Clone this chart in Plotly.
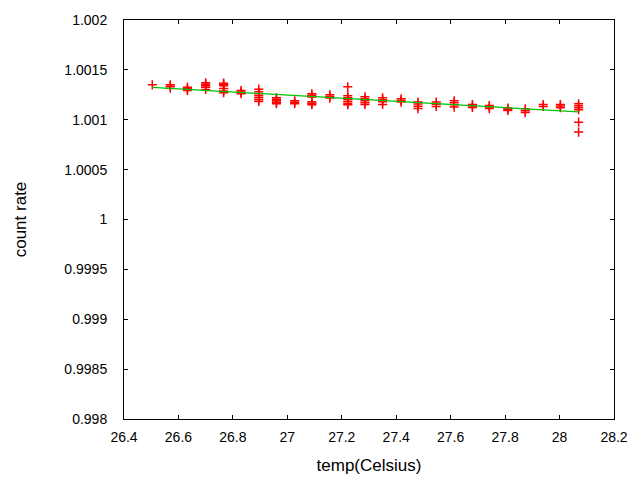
import plotly.graph_objects as go

# Temperatures (Celsius) of each measurement cluster
cluster_temps = [26.504, 26.57, 26.633, 26.70, 26.766, 26.83, 26.895, 26.96,
                 27.027, 27.09, 27.156, 27.222, 27.285, 27.35, 27.418, 27.48,
                 27.547, 27.613, 27.68, 27.742, 27.81, 27.874, 27.94, 28.003, 28.07]

# Count-rate readings at each temperature
cluster_values = [
    [1.00135],
    [1.00135, 1.001335, 1.001317],
    [1.001327, 1.00131, 1.001293],
    [1.00137, 1.001355, 1.00134, 1.001325, 1.001303],
    [1.001367, 1.001355, 1.00134, 1.001313, 1.001287, 1.00127],
    [1.001293, 1.001277, 1.00126],
    [1.001307, 1.00128, 1.00126, 1.00124, 1.00122, 1.0012, 1.001183],
    [1.00122, 1.001205, 1.00119, 1.001175, 1.00116],
    [1.00119, 1.001175, 1.00116],
    [1.00126, 1.001245, 1.001227, 1.00118, 1.001165, 1.00115],
    [1.00125, 1.001234, 1.001217],
    [1.00133, 1.00124, 1.00122, 1.0012, 1.00118, 1.00116, 1.00115],
    [1.00123, 1.00121, 1.00119, 1.00117, 1.001153],
    [1.00122, 1.0012, 1.00118, 1.001153],
    [1.00121, 1.001194, 1.001177],
    [1.001177, 1.001157, 1.001135, 1.001112],
    [1.001177, 1.001155, 1.001133],
    [1.00119, 1.00117, 1.00115, 1.001127],
    [1.001153, 1.001138, 1.001123],
    [1.001143, 1.001128, 1.001112],
    [1.001117, 1.001105, 1.001092],
    [1.00111, 1.00109, 1.001072],
    [1.001153, 1.001133],
    [1.001153, 1.001137, 1.00112],
    [1.00116, 1.00114, 1.00112, 1.0011, 1.000976, 1.000876],
]

# Linear fit line endpoints
fit_temps = [26.504, 28.07]
fit_values = [1.001325, 1.001079]

x_ticks = [26.4, 26.6, 26.8, 27, 27.2, 27.4, 27.6, 27.8, 28, 28.2]
x_tick_labels = ["26.4", "26.6", "26.8", "27", "27.2", "27.4", "27.6", "27.8", "28", "28.2"]
y_ticks = [0.998, 0.9985, 0.999, 0.9995, 1.0, 1.0005, 1.001, 1.0015, 1.002]
y_tick_labels = ["0.998", "0.9985", "0.999", "0.9995", "1", "1.0005", "1.001", "1.0015", "1.002"]

xs, ys = [], []
for t, vals in zip(cluster_temps, cluster_values):
    for v in vals:
        xs.append(t)
        ys.append(v)

fig = go.Figure()
fig.add_trace(go.Scatter(
    x=xs, y=ys, mode="markers",
    marker=dict(symbol="cross-thin", size=6.5, color="#ff0000",
                line=dict(color="#ff0000", width=1.5)),
    showlegend=False, hoverinfo="skip"))
fig.add_trace(go.Scatter(
    x=fit_temps, y=fit_values, mode="lines",
    line=dict(color="#00c000", width=1.2),
    showlegend=False, hoverinfo="skip"))

font = dict(family="Liberation Sans, Arial, sans-serif", size=14, color="#000000")
fig.update_layout(
    width=640, height=480,
    margin=dict(l=124, r=26, t=20, b=61, autoexpand=False),
    paper_bgcolor="white", plot_bgcolor="white",
    font=font, showlegend=False,
    xaxis=dict(range=[26.4, 28.2], tickvals=x_ticks, ticktext=x_tick_labels,
               showgrid=False, zeroline=False, showline=True, linecolor="black",
               linewidth=1, mirror="ticks", ticks="inside", ticklen=4,
               tickcolor="black", ticklabelstandoff=5, automargin=False,
               title=dict(text="temp(Celsius)", standoff=15)),
    yaxis=dict(range=[0.998, 1.002], tickvals=y_ticks, ticktext=y_tick_labels,
               showgrid=False, zeroline=False, showline=True, linecolor="black",
               linewidth=1, mirror="ticks", ticks="inside", ticklen=4,
               tickcolor="black", ticklabelstandoff=13, automargin=False,
               title=dict(text="count rate", standoff=33)),
)

fig.write_html("out.html", config={"displayModeBar": False},
               post_script="document.body.style.margin='0';")
